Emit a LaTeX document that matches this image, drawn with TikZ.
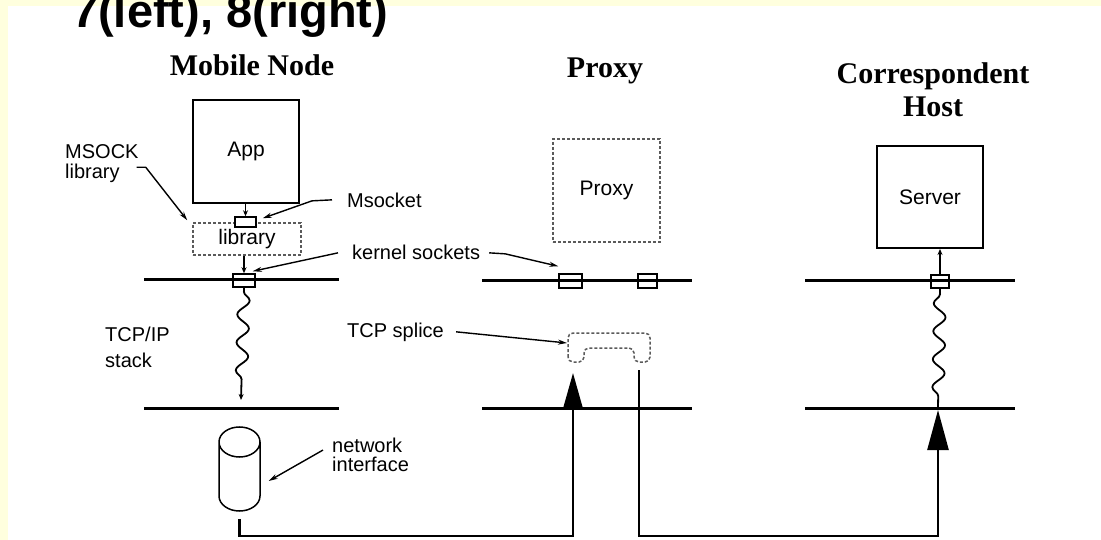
\documentclass[tikz,border=0pt]{standalone}
\usepackage{fontspec}
\setmainfont{Liberation Serif}
\setsansfont{Liberation Sans}
\usetikzlibrary{arrows.meta, decorations.pathmorphing, shapes.geometric}
\definecolor{slidebg}{RGB}{255,255,222}
\definecolor{dashgray}{RGB}{90,90,90}
\tikzset{
  layer/.style={line width=3pt},
  box/.style={draw, line width=2pt, inner sep=0pt, font=\sffamily\fontsize{21}{21}\selectfont},
  dbox/.style={draw=dashgray, line width=1.5pt, dash pattern={on 3pt off 2pt}, inner sep=0pt, font=\sffamily\fontsize{21}{21}\selectfont},
  sock/.style={draw, line width=1.5pt, inner sep=0pt, minimum width=22pt, minimum height=13pt},
  hdr/.style={font=\bfseries\fontsize{30}{33}\selectfont, align=center, inner sep=0pt},
  lbl/.style={font=\sffamily\fontsize{20}{20}\selectfont, align=left, inner sep=0pt},
  callout/.style={-{Stealth[length=9pt,width=5pt]}, line width=1.4pt},
  tick/.style={-{Stealth[length=6pt,width=5pt]}, line width=1.3pt},
  wave/.style={decorate, decoration={snake, amplitude=6pt, segment length=28pt, pre length=4pt, post length=8pt}, line width=1.8pt},
  link/.style={line width=2.5pt},
}
\begin{document}
\begin{tikzpicture}[x=1pt, y=-1pt]
	\useasboundingbox (0,0) rectangle (1101,540);
	\clip (0,0) rectangle (1101,540);
	% slide frame and title
	\fill[slidebg] (0,0) rectangle (1101,540);
	\fill[white] (8,6) rectangle (1101,540);
	\node[anchor=base west, inner sep=0pt, font=\sffamily\bfseries\fontsize{47}{50}\selectfont] (ttl) at (72,28) {7(left), 8(right)};
	% column headers
	\node[hdr, anchor=base] (mnhdr) at (252,76) {Mobile Node};
	\node[hdr, anchor=base] (pxhdr) at (605,78) {Proxy};
	\node[hdr, anchor=north] (chhdr) at (933,62) {Correspondent\\Host};
	% mobile node
	\node[box, minimum width=106pt, minimum height=103pt] (app) at (246,151.5) {App};
	\node[dbox, minimum width=108pt, minimum height=32pt] (lib) at (247,239) {library};
	\node[sock, minimum width=21pt, minimum height=10pt, fill=white] (msock) at (245.5,222) {};
	\draw[layer] (144,280) -- (339,280);
	\draw[layer] (144,408) -- (339,408);
	\node[sock] (mnsock) at (244,280.5) {};
	\draw[tick] (app.south -| msock) -- (msock.north);
	\draw[tick] (mnsock.north |- lib.south) -- (mnsock.north);
	\draw[wave, -{Stealth[length=6pt,width=5pt]}] (mnsock.south) -- (241,400);
	\node[cylinder, shape border rotate=90, draw, line width=1.5pt, minimum width=41pt, minimum height=84pt, aspect=4.5, anchor=shape center] (nic) at (239.5,469) {};
	% proxy
	\node[dbox, minimum width=107pt, minimum height=103pt] (pxbox) at (606.5,190.5) {Proxy};
	\draw[layer] (482,281) -- (692,281);
	\draw[layer] (482,408) -- (692,408);
	\node[sock, minimum width=23pt, minimum height=14pt] (pxsock1) at (570.5,281) {};
	\node[sock, minimum width=19pt, minimum height=14pt] (pxsock2) at (647.5,281) {};
	\draw[dashgray, line width=1.5pt, dash pattern={on 3pt off 2pt}, rounded corners=5pt]
		(568,362) -- (568,333) -- (650,333) -- (650,362) -- (634,362) -- (634,348) -- (584,348) -- (584,362) -- cycle;
	\coordinate (splice) at (567,343);
	% correspondent host
	\node[box, minimum width=106pt, minimum height=102pt] (server) at (930,197) {Server};
	\draw[layer] (805,281) -- (1015,281);
	\draw[layer] (805,408) -- (1015,408);
	\node[sock, minimum width=18pt, minimum height=13pt] (chsock) at (940,281.5) {};
	\draw[tick] (chsock.north) -- (server.south -| chsock);
	\draw[wave, decoration={pre length=12pt, post length=2pt}] (938,408) -- (chsock.south);
	% network links
	\coordinate (pxin) at (573,373);
	\coordinate (pxout) at (639,370);
	\coordinate (chin) at (938,410);
	\draw[link, -{Triangle[length=35pt,width=19pt]}] ([yshift=-7pt]nic.south) |- (pxin |- 0,536) -- (pxin);
	\draw[link, -{Triangle[length=40pt,width=21pt]}] (pxout) -- (pxout |- 0,536) -| (chin);
	% labels and callouts
	\node[lbl, anchor=north west] (msocklbl) at (65,144) {MSOCK\\library};
	\draw[callout] ([xshift=-2pt,yshift=-4pt]msocklbl.east) -- ++(9,0) -- ([xshift=-5pt,yshift=2pt]lib.north west);
	\node[lbl, anchor=base west] (msocketlbl) at (347,208) {Msocket};
	\draw[callout] ([xshift=-15pt,yshift=1pt]msocketlbl.west) -- ++(-20,1) -- ([xshift=6pt,yshift=-2pt]msock.north east);
	\node[lbl, anchor=base west] (kslbl) at (352,260) {kernel sockets};
	\draw[callout] ([xshift=-14pt]kslbl.west) -- ([xshift=-3pt,yshift=2pt]mnsock.north east);
	\draw[callout] ([xshift=9pt]kslbl.east) -- ++(16,1) -- ([yshift=7pt]pxsock1.north west);
	\node[lbl, anchor=north west, font=\sffamily\fontsize{20}{26}\selectfont] (stacklbl) at (105,327) {TCP/IP\\stack};
	\node[lbl, anchor=base west] (splicelbl) at (347,337) {TCP splice};
	\draw[callout] ([xshift=12pt]splicelbl.east) -- (splice);
	\node[lbl, anchor=north west, font=\sffamily\fontsize{20}{19}\selectfont] (niclbl) at (332,438) {network\\interface};
	\draw[callout] ([xshift=-9pt,yshift=5pt]niclbl.west) -- ([xshift=8pt]nic.east);
\end{tikzpicture}
\end{document}
